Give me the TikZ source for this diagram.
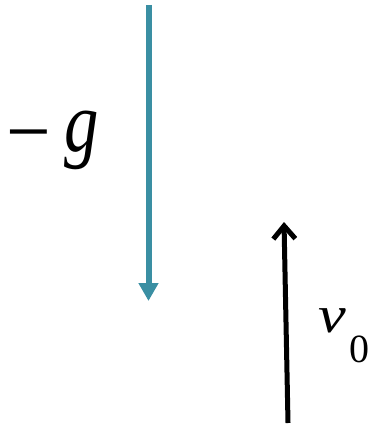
\documentclass[tikz,border=0pt]{standalone}
\usepackage{fontspec}
\setmainfont{Liberation Serif}
\usetikzlibrary{arrows.meta}
\definecolor{gravteal}{RGB}{58,143,163}
\begin{document}
\begin{tikzpicture}[x=1pt,y=-1pt,
            gravity/.style={draw=gravteal, line width=6pt, -{Triangle[width=19pt,length=18pt]}},
            velocity/.style={draw=black, line width=5pt, -{Straight Barb[width=22pt,length=13pt]}},
            lbl/.style={anchor=base west, inner sep=0pt}
            ]
            \useasboundingbox (0,0) rectangle (378,427);
            \coordinate (gtop) at (148.5,5);
            \coordinate (gtip) at (148.5,301);
            \coordinate (vbot) at (288,423);
            \coordinate (vtip) at (284,222);
            \node[lbl] (glabel) at (6,152) {\fontsize{66}{66}\selectfont\raisebox{-9pt}{\scalebox{1.2}[1.3]{−}}\kern 14pt\fontsize{86}{86}\selectfont\scalebox{0.8}[1]{\textit{g}}};
            \node[lbl] (vlabel) at (318,332) {\fontsize{52}{52}\selectfont\scalebox{1.2}[1]{\textit{v}}\kern4pt\raisebox{-30pt}{\fontsize{40}{40}\selectfont 0}};

            \draw[gravity] (gtop)--(gtip);
            \draw[velocity] (vbot)--(vtip);
            \end{tikzpicture}
\end{document}
